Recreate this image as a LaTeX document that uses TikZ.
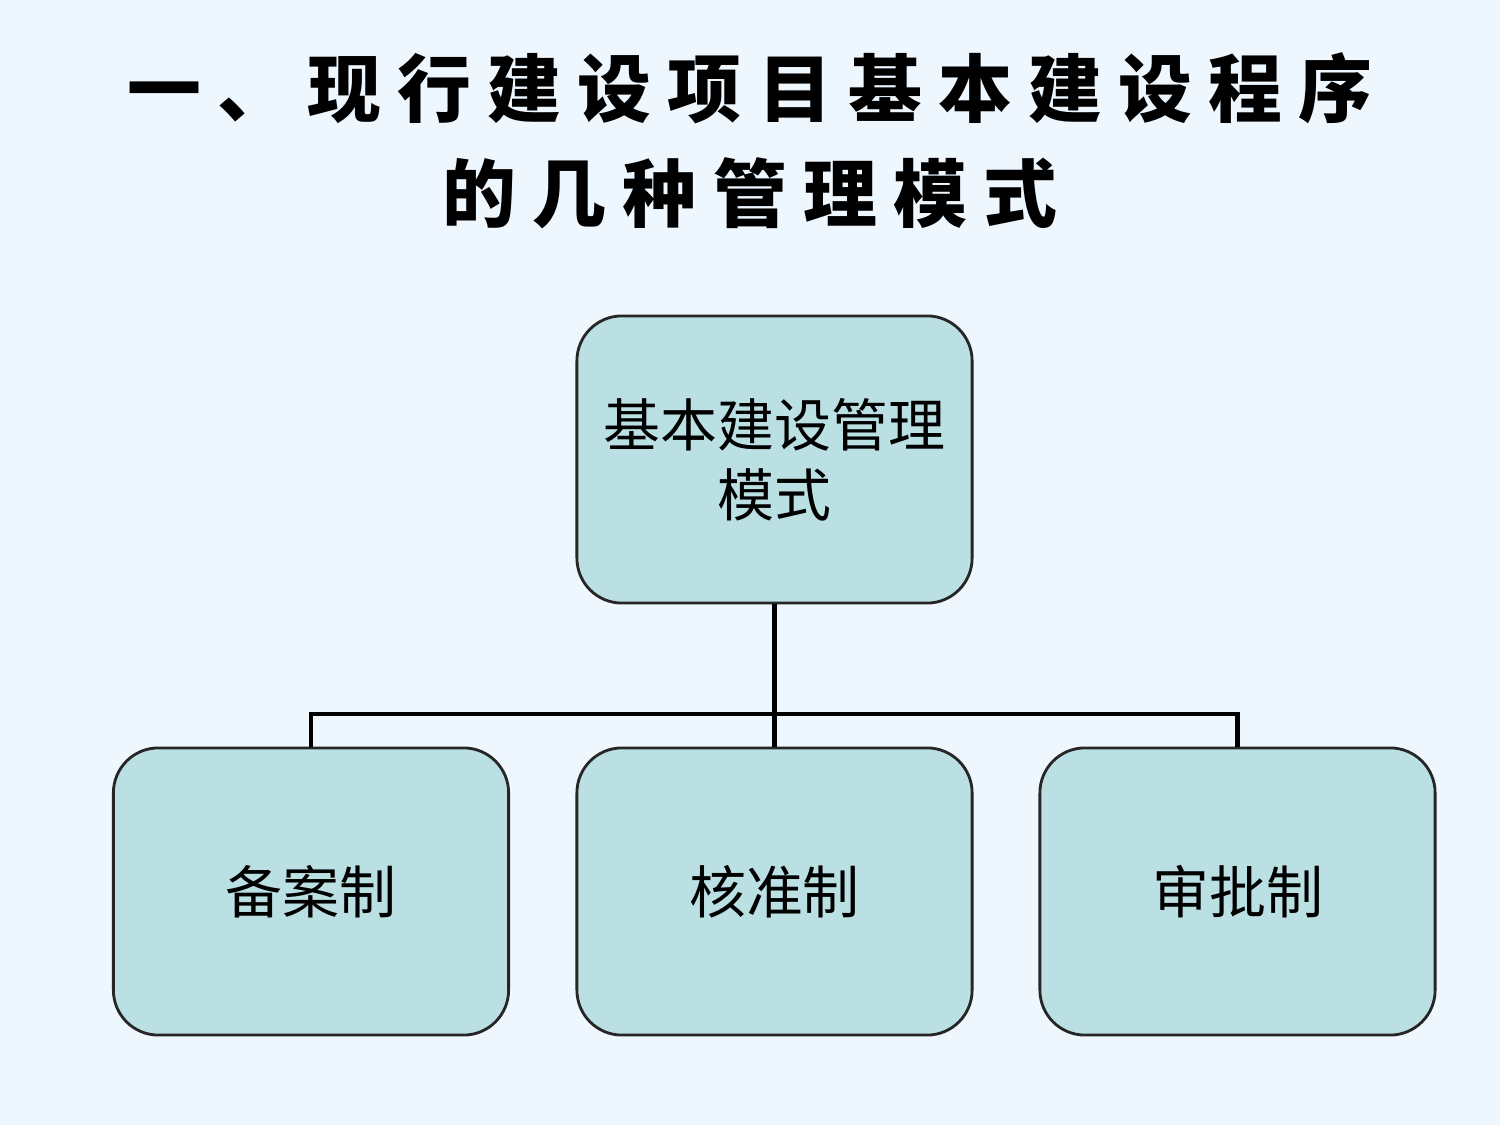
\documentclass[tikz,border=0pt]{standalone}
\usepackage{fontspec}
\newfontfamily\cjk{Noto Sans CJK SC}
\newfontfamily\cjkt[LetterSpace=22]{Noto Sans CJK SC Black}
\definecolor{bg}{HTML}{EEF6FE}
\definecolor{boxfill}{HTML}{BBE0E3}
\begin{document}
\begin{tikzpicture}[x=0.01cm,y=-0.01cm,
  box/.style={draw=black!85,line width=0.8pt,fill=boxfill,rounded corners=0.45cm,minimum width=3.95cm,minimum height=2.87cm,align=center,font=\cjk\fontsize{16.2}{20}\selectfont},
  conn/.style={draw=black,line width=1.4pt}]
\fill[bg] (0,0) rectangle (1500,1125);
\useasboundingbox (0,0) rectangle (1500,1125);
\node (t1) at (750,88) {\cjkt\fontsize{21}{24}\selectfont 一、现行建设项目基本建设程序};
\node (t2) at (750,193) {\cjkt\fontsize{21}{24}\selectfont 的几种管理模式};
\node[box] (top) at (774.5,459.5) {基本建设管理\\模式};
\node[box] (a) at (311,891.5) {备案制};
\node[box] (b) at (774.5,891.5) {核准制};
\node[box] (c) at (1237.5,891.5) {审批制};
\coordinate (m) at (774.5,714);
\draw[conn] (top.south) -- (m);
\draw[conn] (a.north) |- (m) -| (c.north);
\draw[conn] (m) -- (b.north);
\end{tikzpicture}
\end{document}
